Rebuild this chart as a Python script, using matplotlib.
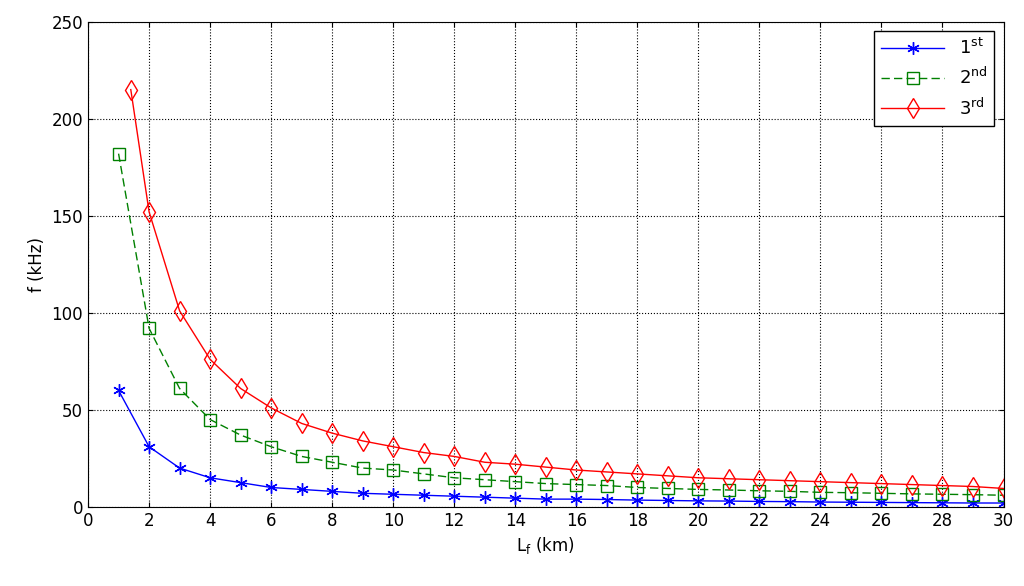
import matplotlib
matplotlib.use("Agg")
import matplotlib.pyplot as plt

x1 = list(range(1, 31))
y1 = [60, 31, 20, 15, 12.5, 10, 9, 8, 7, 6.5, 6, 5.5, 5, 4.5, 4, 4, 3.8, 3.5, 3.3, 3.1, 3, 2.8, 2.7, 2.5, 2.4, 2.3, 2.2, 2.1, 2, 2]
x2 = list(range(1, 31))
y2 = [182, 92, 61, 45, 37, 31, 26, 23, 20, 19, 17, 15, 14, 13, 12, 11.5, 11, 10, 9.5, 9, 8.7, 8.3, 8, 7.5, 7.3, 7, 6.7, 6.5, 6.3, 6]
x3 = [1.4] + list(range(2, 31))
y3 = [215, 152, 101, 76, 61, 51, 43, 38, 34, 31, 28, 26, 23, 22, 20.5, 19, 18, 17, 16, 15, 14.5, 14, 13.5, 13, 12.5, 12, 11.5, 11, 10.5, 9.5]

fig = plt.figure(figsize=(10.24, 5.86), dpi=100)
ax = fig.add_axes([0.086, 0.135, 0.894, 0.828])
ax.plot(x1, y1, '-', marker=(6, 2, 0), color='#0000ff', lw=1, ms=9, label='1$^{\\mathrm{st}}$')
ax.plot(x2, y2, '-', marker='s', color='#008000', lw=1, ms=9, mfc='none', dashes=(6, 3), label='2$^{\\mathrm{nd}}$')
ax.plot(x3, y3, '-d', color='#ff0000', lw=1, ms=10, mfc='none', label='3$^{\\mathrm{rd}}$')
ax.set_xlim(0, 30)
ax.set_ylim(0, 250)
ax.set_xticks(range(0, 31, 2))
ax.set_yticks(range(0, 251, 50))
ax.grid(True, linestyle=':', color='black', lw=0.8)
ax.tick_params(direction='in', labelsize=12, top=True, right=True)
ax.set_xlabel('L$_\\mathrm{f}$ (km)', fontsize=12)
ax.set_ylabel('f (kHz)', fontsize=12)
leg = ax.legend(loc='upper right', fontsize=13, fancybox=False, edgecolor='black', framealpha=1, handlelength=3.5)
fig.savefig('out.png', dpi=100, facecolor='white')
